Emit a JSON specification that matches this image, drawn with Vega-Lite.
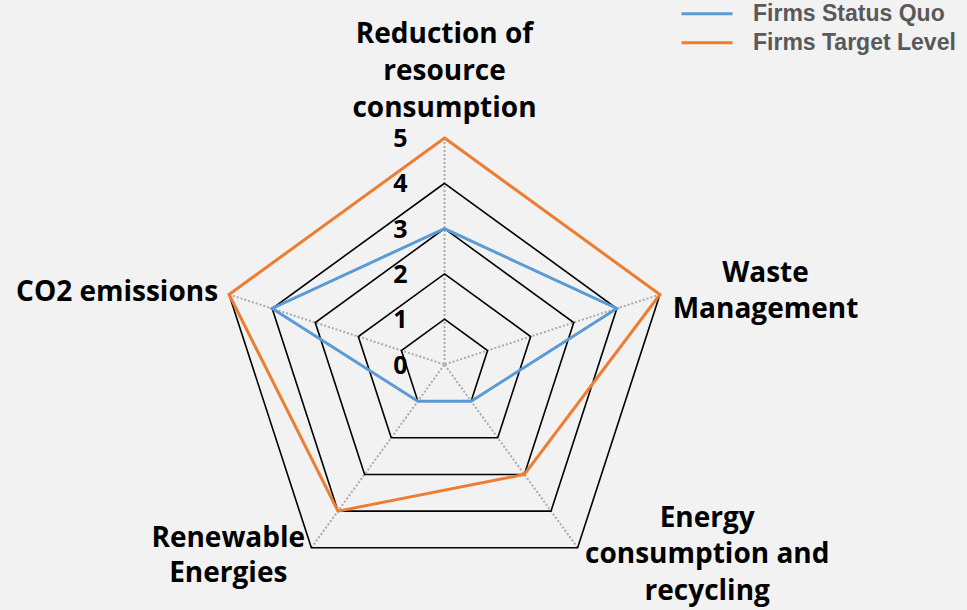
{
  "$schema": "https://vega.github.io/schema/vega-lite/v6.json",
  "width": 967,
  "height": 610,
  "autosize": {"type": "none"},
  "padding": 0,
  "background": "#f2f2f2",
  "config": {"view": {"stroke": null}},
  "datasets": {
    "axes": [
      {"order": 0, "label": "Reduction of\nresource\nconsumption"},
      {"order": 1, "label": "Waste\nManagement"},
      {"order": 2, "label": "Energy\nconsumption and\nrecycling"},
      {"order": 3, "label": "Renewable\nEnergies"},
      {"order": 4, "label": "CO2 emissions"}
    ],
    "grid": [
      {"level": 1, "order": 0}, {"level": 1, "order": 1}, {"level": 1, "order": 2}, {"level": 1, "order": 3}, {"level": 1, "order": 4},
      {"level": 2, "order": 0}, {"level": 2, "order": 1}, {"level": 2, "order": 2}, {"level": 2, "order": 3}, {"level": 2, "order": 4},
      {"level": 3, "order": 0}, {"level": 3, "order": 1}, {"level": 3, "order": 2}, {"level": 3, "order": 3}, {"level": 3, "order": 4},
      {"level": 4, "order": 0}, {"level": 4, "order": 1}, {"level": 4, "order": 2}, {"level": 4, "order": 3}, {"level": 4, "order": 4},
      {"level": 5, "order": 0}, {"level": 5, "order": 1}, {"level": 5, "order": 2}, {"level": 5, "order": 3}, {"level": 5, "order": 4}
    ],
    "ticks": [{"level": 0}, {"level": 1}, {"level": 2}, {"level": 3}, {"level": 4}, {"level": 5}],
    "scores": [
      {"series": "Firms Status Quo", "order": 0, "value": 3},
      {"series": "Firms Status Quo", "order": 1, "value": 4},
      {"series": "Firms Status Quo", "order": 2, "value": 1},
      {"series": "Firms Status Quo", "order": 3, "value": 1},
      {"series": "Firms Status Quo", "order": 4, "value": 4},
      {"series": "Firms Target Level", "order": 0, "value": 5},
      {"series": "Firms Target Level", "order": 1, "value": 5},
      {"series": "Firms Target Level", "order": 2, "value": 3},
      {"series": "Firms Target Level", "order": 3, "value": 4},
      {"series": "Firms Target Level", "order": 4, "value": 5}
    ]
  },
  "layer": [
    {
      "data": {"name": "axes"},
      "transform": [
        {"calculate": "PI/2 - datum.order*2*PI/5", "as": "ang"},
        {"calculate": "5*cos(datum.ang)", "as": "px"},
        {"calculate": "5*sin(datum.ang)", "as": "py"}
      ],
      "mark": {"type": "rule", "color": "#ababab", "strokeWidth": 2, "strokeDash": [2, 2]},
      "encoding": {
        "x": {"field": "px", "type": "quantitative", "scale": {"domain": [-9.812, 11.534], "nice": false, "zero": false}, "axis": null},
        "y": {"field": "py", "type": "quantitative", "scale": {"domain": [-5.419, 8.046], "nice": false, "zero": false}, "axis": null},
        "x2": {"datum": 0},
        "y2": {"datum": 0}
      }
    },
    {
      "data": {"name": "grid"},
      "transform": [
        {"calculate": "PI/2 - datum.order*2*PI/5", "as": "ang"},
        {"calculate": "datum.level*cos(datum.ang)", "as": "px"},
        {"calculate": "datum.level*sin(datum.ang)", "as": "py"}
      ],
      "mark": {"type": "line", "interpolate": "linear-closed", "color": "#000000", "strokeWidth": 1.6},
      "encoding": {
        "x": {"field": "px", "type": "quantitative", "scale": {"domain": [-9.812, 11.534], "nice": false, "zero": false}, "axis": null},
        "y": {"field": "py", "type": "quantitative", "scale": {"domain": [-5.419, 8.046], "nice": false, "zero": false}, "axis": null},
        "detail": {"field": "level", "type": "nominal"},
        "order": {"field": "order", "type": "quantitative"}
      }
    },
    {
      "data": {"name": "ticks"},
      "mark": {"type": "text", "font": "Open Sans", "fontWeight": "bold", "fontSize": 25, "color": "#000000", "align": "center", "baseline": "middle", "dx": -44, "dy": 1},
      "encoding": {
        "x": {"datum": 0, "type": "quantitative", "scale": {"domain": [-9.812, 11.534], "nice": false, "zero": false}, "axis": null},
        "y": {"field": "level", "type": "quantitative", "scale": {"domain": [-5.419, 8.046], "nice": false, "zero": false}, "axis": null},
        "text": {"field": "level", "type": "quantitative"}
      }
    },
    {
      "data": {"name": "scores"},
      "transform": [
        {"calculate": "PI/2 - datum.order*2*PI/5", "as": "ang"},
        {"calculate": "datum.value*cos(datum.ang)", "as": "px"},
        {"calculate": "datum.value*sin(datum.ang)", "as": "py"}
      ],
      "mark": {"type": "line", "interpolate": "linear-closed", "strokeWidth": 3},
      "encoding": {
        "x": {"field": "px", "type": "quantitative", "scale": {"domain": [-9.812, 11.534], "nice": false, "zero": false}, "axis": null},
        "y": {"field": "py", "type": "quantitative", "scale": {"domain": [-5.419, 8.046], "nice": false, "zero": false}, "axis": null},
        "order": {"field": "order", "type": "quantitative"},
        "color": {
          "field": "series", "type": "nominal",
          "scale": {"domain": ["Firms Status Quo", "Firms Target Level"], "range": ["#5b9bd5", "#ed7d31"]},
          "legend": {
            "title": null, "orient": "none", "legendX": 680, "legendY": -0.5,
            "symbolType": "stroke", "symbolSize": 2601, "symbolStrokeWidth": 3,
            "labelFont": "Liberation Sans", "labelFontSize": 23, "labelFontWeight": "bold", "labelColor": "#595959",
            "labelOffset": 19, "labelLimit": 400, "clipHeight": 28.4, "rowPadding": 0, "padding": 0
          }
        }
      }
    },
    {
      "data": {"name": "axes"},
      "transform": [
        {"filter": "datum.order == 0"},
        {"calculate": "PI/2 - datum.order*2*PI/5", "as": "ang"},
        {"calculate": "5*cos(datum.ang)", "as": "px"},
        {"calculate": "5*sin(datum.ang)", "as": "py"}
      ],
      "mark": {"type": "text", "font": "Open Sans", "fontWeight": "bold", "fontSize": 28, "color": "#000000", "lineBreak": "\n", "lineHeight": 36.7, "align": "center", "baseline": "alphabetic", "dx": 0, "dy": -94.7},
      "encoding": {
        "x": {"field": "px", "type": "quantitative", "scale": {"domain": [-9.812, 11.534], "nice": false, "zero": false}, "axis": null},
        "y": {"field": "py", "type": "quantitative", "scale": {"domain": [-5.419, 8.046], "nice": false, "zero": false}, "axis": null},
        "text": {"field": "label", "type": "nominal"}
      }
    },
    {
      "data": {"name": "axes"},
      "transform": [
        {"filter": "datum.order == 1"},
        {"calculate": "PI/2 - datum.order*2*PI/5", "as": "ang"},
        {"calculate": "5*cos(datum.ang)", "as": "px"},
        {"calculate": "5*sin(datum.ang)", "as": "py"}
      ],
      "mark": {"type": "text", "font": "Open Sans", "fontWeight": "bold", "fontSize": 28, "color": "#000000", "lineBreak": "\n", "lineHeight": 35.5, "align": "center", "baseline": "alphabetic", "dx": 105.6, "dy": -12.2},
      "encoding": {
        "x": {"field": "px", "type": "quantitative", "scale": {"domain": [-9.812, 11.534], "nice": false, "zero": false}, "axis": null},
        "y": {"field": "py", "type": "quantitative", "scale": {"domain": [-5.419, 8.046], "nice": false, "zero": false}, "axis": null},
        "text": {"field": "label", "type": "nominal"}
      }
    },
    {
      "data": {"name": "axes"},
      "transform": [
        {"filter": "datum.order == 2"},
        {"calculate": "PI/2 - datum.order*2*PI/5", "as": "ang"},
        {"calculate": "5*cos(datum.ang)", "as": "px"},
        {"calculate": "5*sin(datum.ang)", "as": "py"}
      ],
      "mark": {"type": "text", "font": "Open Sans", "fontWeight": "bold", "fontSize": 28, "color": "#000000", "lineBreak": "\n", "lineHeight": 36.7, "align": "center", "baseline": "alphabetic", "dx": 129.6, "dy": -21},
      "encoding": {
        "x": {"field": "px", "type": "quantitative", "scale": {"domain": [-9.812, 11.534], "nice": false, "zero": false}, "axis": null},
        "y": {"field": "py", "type": "quantitative", "scale": {"domain": [-5.419, 8.046], "nice": false, "zero": false}, "axis": null},
        "text": {"field": "label", "type": "nominal"}
      }
    },
    {
      "data": {"name": "axes"},
      "transform": [
        {"filter": "datum.order == 3"},
        {"calculate": "PI/2 - datum.order*2*PI/5", "as": "ang"},
        {"calculate": "5*cos(datum.ang)", "as": "px"},
        {"calculate": "5*sin(datum.ang)", "as": "py"}
      ],
      "mark": {"type": "text", "font": "Open Sans", "fontWeight": "bold", "fontSize": 28, "color": "#000000", "lineBreak": "\n", "lineHeight": 35, "align": "center", "baseline": "alphabetic", "dx": -83.1, "dy": -1},
      "encoding": {
        "x": {"field": "px", "type": "quantitative", "scale": {"domain": [-9.812, 11.534], "nice": false, "zero": false}, "axis": null},
        "y": {"field": "py", "type": "quantitative", "scale": {"domain": [-5.419, 8.046], "nice": false, "zero": false}, "axis": null},
        "text": {"field": "label", "type": "nominal"}
      }
    },
    {
      "data": {"name": "axes"},
      "transform": [
        {"filter": "datum.order == 4"},
        {"calculate": "PI/2 - datum.order*2*PI/5", "as": "ang"},
        {"calculate": "5*cos(datum.ang)", "as": "px"},
        {"calculate": "5*sin(datum.ang)", "as": "py"}
      ],
      "mark": {"type": "text", "font": "Open Sans", "fontWeight": "bold", "fontSize": 28, "color": "#000000", "lineBreak": "\n", "align": "right", "baseline": "alphabetic", "dx": -11, "dy": 6.2},
      "encoding": {
        "x": {"field": "px", "type": "quantitative", "scale": {"domain": [-9.812, 11.534], "nice": false, "zero": false}, "axis": null},
        "y": {"field": "py", "type": "quantitative", "scale": {"domain": [-5.419, 8.046], "nice": false, "zero": false}, "axis": null},
        "text": {"field": "label", "type": "nominal"}
      }
    }
  ]
}
